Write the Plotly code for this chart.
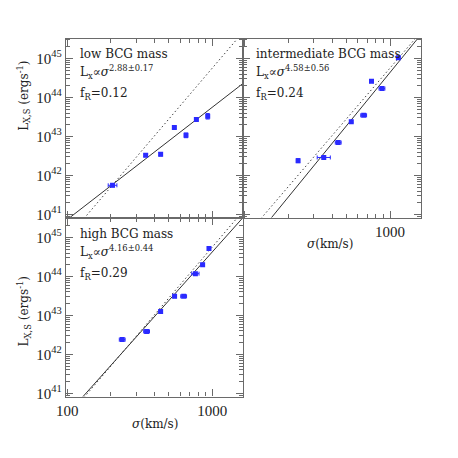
import numpy as np
import plotly.graph_objects as go

# ---------------- data ----------------
panel_titles = ["low BCG mass", "intermediate BCG mass", "high BCG mass"]
slopes = [2.88, 4.58, 4.16]
slope_errs = [0.17, 0.56, 0.44]
fR_vals = [0.12, 0.24, 0.29]
# fit normalisation: log10 Lx at sigma = 500 km/s
fit_norm_500 = [42.885, 43.265, 43.379]
ref_slope = 4.36
ref_norm_500 = 43.444

low_sigma = [205, 347, 440, 547, 658, 776, 929]
low_Lx = [5.6e41, 3.3e42, 3.5e42, 1.7e43, 1.07e43, 2.75e43, 3.3e43]
low_sig_err_dex = [0.03, 0.01, 0.008, 0.008, 0.01, 0.008, 0.008]
low_Lx_err_dex = [0.04, 0.03, 0.04, 0.02, 0.06, 0.03, 0.07]

int_sigma = [234, 351, 441, 542, 659, 746, 880, 1140]
int_Lx = [2.4e42, 2.9e42, 7.0e42, 2.4e43, 3.5e43, 2.6e44, 1.7e44, 1.05e45]
int_sig_err_dex = [0.008, 0.045, 0.02, 0.008, 0.02, 0.01, 0.02, 0.008]
int_Lx_err_dex = [0.05, 0.02, 0.02, 0.02, 0.02, 0.02, 0.02, 0.02]

high_sigma = [239, 352, 440, 549, 634, 764, 857, 948]
high_Lx = [2.4e42, 3.9e42, 1.26e43, 3.1e43, 3.1e43, 1.18e44, 2.0e44, 5.2e44]
high_sig_err_dex = [0.02, 0.02, 0.01, 0.008, 0.02, 0.025, 0.01, 0.01]
high_Lx_err_dex = [0.04, 0.02, 0.03, 0.03, 0.02, 0.02, 0.02, 0.02]

y_tick_exps = [41, 42, 43, 44, 45]
x_major_ticks = [100, 1000]

# ---------------- figure ----------------
OFF = 8            # page body margin of the browser
W = H = 458 - 2 * OFF
FONT = "DejaVu Serif"
TICKFONT = "Liberation Serif"
BLUE = "#2a2aff"
FRAME = "#6a6a6a"


def px(x):
    return (x - OFF) / W


def py(y):
    return 1 - (y - OFF) / H


panels = [
    dict(sig=low_sigma, L=low_Lx, se=low_sig_err_dex, le=low_Lx_err_dex,
         xd=[px(57), px(238)], yd=[py(220), py(39)], ax=""),
    dict(sig=int_sigma, L=int_Lx, se=int_sig_err_dex, le=int_Lx_err_dex,
         xd=[px(238), px(420)], yd=[py(220), py(39)], ax="2"),
    dict(sig=high_sigma, L=high_Lx, se=high_sig_err_dex, le=high_Lx_err_dex,
         xd=[px(57), px(238)], yd=[py(401), py(220)], ax="3"),
]

fig = go.Figure()
xline = np.array([1.9, 3.3])
for i, p in enumerate(panels):
    xa = "x" + p["ax"]
    ya = "y" + p["ax"]
    sig = np.array(p["sig"], float)
    L = np.array(p["L"], float)
    se = np.array(p["se"], float)
    le = np.array(p["le"], float)
    fig.add_trace(go.Scatter(
        x=10 ** xline, y=10 ** (ref_norm_500 + ref_slope * (xline - np.log10(500))),
        mode="lines", line=dict(color="#444444", width=1, dash="1.5px,2.5px"),
        xaxis=xa, yaxis=ya, showlegend=False, hoverinfo="skip"))
    fig.add_trace(go.Scatter(
        x=10 ** xline, y=10 ** (fit_norm_500[i] + slopes[i] * (xline - np.log10(500))),
        mode="lines", line=dict(color="#333333", width=1),
        xaxis=xa, yaxis=ya, showlegend=False, hoverinfo="skip"))
    fig.add_trace(go.Scatter(
        x=sig, y=L, mode="markers",
        marker=dict(symbol="square", size=5, color=BLUE),
        error_x=dict(type="data", symmetric=False, array=sig * (10 ** se - 1),
                     arrayminus=sig * (1 - 10 ** -se), color=BLUE, thickness=1, width=2),
        error_y=dict(type="data", symmetric=False, array=L * (10 ** le - 1),
                     arrayminus=L * (1 - 10 ** -le), color=BLUE, thickness=1, width=2),
        xaxis=xa, yaxis=ya, showlegend=False))

x_minor = [m * 10 ** d for d in (2, 3) for m in range(2, 10)]
y_minor = [m * 10.0 ** d for d in range(40, 46) for m in range(2, 10)]

axis_common = dict(
    type="log", showgrid=False, zeroline=False, showline=True, linecolor=FRAME,
    linewidth=1.2, mirror="allticks", ticks="inside", tickcolor=FRAME, ticklen=7,
    tickwidth=1, tickfont=dict(family=TICKFONT, size=15, color="#222222"),
)

x_show = [False, True, True]
y_show = [True, False, True]
for i, p in enumerate(panels):
    k = p["ax"]
    xaxis = dict(axis_common, domain=p["xd"], range=[1.99, 3.21],
                 anchor="y" + k, tickmode="array",
                 tickvals=x_major_ticks, ticktext=[str(v) for v in x_major_ticks],
                 showticklabels=x_show[i],
                 minor=dict(ticks="inside", ticklen=4, tickcolor=FRAME, tickwidth=1,
                            tickmode="array", tickvals=x_minor, showgrid=False))
    if i == 1:
        xaxis["ticktext"] = ["", "1000"]
    yaxis = dict(axis_common, domain=p["yd"], range=[40.92, 45.51],
                 anchor="x" + k, tickmode="array",
                 tickvals=[10.0 ** e for e in y_tick_exps],
                 ticktext=["10<sup>%d</sup>" % e for e in y_tick_exps],
                 showticklabels=y_show[i],
                 minor=dict(ticks="inside", ticklen=4, tickcolor=FRAME, tickwidth=1,
                            tickmode="array", tickvals=y_minor, showgrid=False))
    fig.update_layout(**{"xaxis" + k: xaxis, "yaxis" + k: yaxis})

ann = []
tfont = dict(family=FONT, size=12, color="#222222")
text_pos = [(69, 55), (249, 55), (69, 237)]
for i, (x0, y0) in enumerate(text_pos):
    ann.append(dict(x=px(x0), y=py(y0), xref="paper", yref="paper", xanchor="left",
                    yanchor="middle", showarrow=False, text=panel_titles[i], font=tfont))
    ann.append(dict(x=px(x0), y=py(y0 + 18), xref="paper", yref="paper", xanchor="left",
                    yanchor="middle", showarrow=False,
                    text="L<sub>x</sub>∝<i>σ</i><sup>%.2f±%.2f</sup>" % (slopes[i], slope_errs[i]),
                    font=tfont))
    ann.append(dict(x=px(x0), y=py(y0 + 40), xref="paper", yref="paper", xanchor="left",
                    yanchor="middle", showarrow=False,
                    text="f<sub>R</sub>=%.2f" % fR_vals[i], font=tfont))
for yc in [97, 315]:
    ann.append(dict(x=px(14), y=py(yc), xref="paper", yref="paper", textangle=-90,
                    xanchor="center", yanchor="middle",
                    showarrow=False, text="L<sub>X,S</sub> (ergs<sup>-1</sup>)", font=tfont))
for xc, yc in [(327, 247), (148, 429)]:
    ann.append(dict(x=px(xc), y=py(yc), xref="paper", yref="paper", showarrow=False,
                    xanchor="center", yanchor="middle",
                    text="<i>σ</i>(km/s)", font=tfont))

fig.update_layout(width=W, height=H, margin=dict(l=0, r=0, t=0, b=0),
                  paper_bgcolor="white", plot_bgcolor="white", annotations=ann)
fig.write_html("out.html")
